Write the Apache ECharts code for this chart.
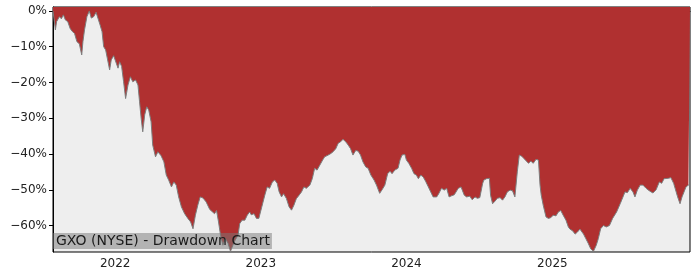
<!DOCTYPE html>
<html>
<head>
<meta charset="utf-8">
<script src="https://cdn.jsdelivr.net/npm/echarts@6/dist/echarts.min.js"></script>
<style>html,body{margin:0;padding:0;background:#fff}#c{width:700px;height:280px}</style>
</head>
<body>
<div id="c"></div>
<script>
const titleText = 'GXO (NYSE) - Drawdown Chart';
const yTicks = [0, -10, -20, -30, -40, -50, -60];
const xTickYears = [2022, 2023, 2024, 2025];
const dates = [
'2021-07-29','2021-08-04','2021-08-07','2021-08-14','2021-08-19','2021-08-24','2021-08-29','2021-09-04','2021-09-10','2021-09-15',
'2021-09-21','2021-09-27','2021-10-03','2021-10-09','2021-10-12','2021-10-16','2021-10-22','2021-10-28','2021-11-02','2021-11-08',
'2021-11-14','2021-11-18','2021-11-24','2021-11-29','2021-12-03','2021-12-08','2021-12-13','2021-12-18','2021-12-22','2021-12-28',
'2022-01-02','2022-01-08','2022-01-12','2022-01-17','2022-01-22','2022-01-27','2022-02-02','2022-02-08','2022-02-14','2022-02-21',
'2022-02-27','2022-03-03','2022-03-07','2022-03-11','2022-03-16','2022-03-21','2022-03-26','2022-04-01','2022-04-05','2022-04-12',
'2022-04-18','2022-04-26','2022-05-03','2022-05-09','2022-05-15','2022-05-22','2022-05-28','2022-06-03','2022-06-09','2022-06-16',
'2022-06-24','2022-07-02','2022-07-09','2022-07-15','2022-07-21','2022-07-27','2022-08-02','2022-08-09','2022-08-17','2022-08-26',
'2022-08-31','2022-09-07','2022-09-12','2022-09-17','2022-09-22','2022-09-28','2022-10-04','2022-10-11','2022-10-17','2022-10-23',
'2022-10-29','2022-11-05','2022-11-09','2022-11-15','2022-11-22','2022-11-28','2022-12-04','2022-12-08','2022-12-15','2022-12-21',
'2022-12-27','2023-01-11','2023-01-17','2023-01-23','2023-01-30','2023-02-05','2023-02-11','2023-02-16','2023-02-22','2023-02-27',
'2023-03-06','2023-03-13','2023-03-19','2023-03-25','2023-03-31','2023-04-07','2023-04-13','2023-04-19','2023-04-25','2023-05-04',
'2023-05-10','2023-05-16','2023-05-22','2023-05-29','2023-06-05','2023-06-10','2023-06-19','2023-06-25','2023-07-01','2023-07-08',
'2023-07-14','2023-07-20','2023-07-26','2023-08-02','2023-08-08','2023-08-14','2023-08-20','2023-08-27','2023-09-02','2023-09-08',
'2023-09-14','2023-09-21','2023-09-27','2023-10-04','2023-10-12','2023-10-18','2023-10-26','2023-11-01','2023-11-08','2023-11-15',
'2023-11-21','2023-11-26','2023-12-03','2023-12-11','2023-12-16','2023-12-21','2023-12-28','2024-01-01','2024-01-07','2024-01-14',
'2024-01-20','2024-01-26','2024-01-31','2024-02-06','2024-02-12','2024-02-18','2024-02-25','2024-03-02','2024-03-08','2024-03-17',
'2024-03-22','2024-03-29','2024-04-05','2024-04-11','2024-04-17','2024-04-23','2024-04-30','2024-05-10','2024-05-17','2024-05-20',
'2024-05-25','2024-05-31','2024-06-08','2024-06-14','2024-06-21','2024-06-27','2024-07-03','2024-07-10','2024-07-13','2024-07-20',
'2024-07-27','2024-07-30','2024-08-04','2024-08-10','2024-08-16','2024-08-23','2024-08-29','2024-09-04','2024-09-10','2024-09-17',
'2024-09-23','2024-09-29','2024-10-05','2024-10-10','2024-10-16','2024-10-22','2024-10-27','2024-11-02','2024-11-08','2024-11-14',
'2024-11-21','2024-11-27','2024-12-01','2024-12-04','2024-12-09','2024-12-16','2024-12-22','2024-12-28','2025-01-03','2025-01-10',
'2025-01-16','2025-01-22','2025-01-28','2025-02-04','2025-02-10','2025-02-14','2025-02-21','2025-02-27','2025-03-05','2025-03-11',
'2025-03-20','2025-03-26','2025-04-01','2025-04-07','2025-04-14','2025-04-21','2025-04-26','2025-05-02','2025-05-09','2025-05-16',
'2025-05-24','2025-06-01','2025-06-11','2025-06-20','2025-06-27','2025-07-02','2025-07-08','2025-07-15','2025-07-22','2025-07-27',
'2025-08-02','2025-08-09','2025-08-16','2025-08-24','2025-09-01','2025-09-10','2025-09-18','2025-09-26','2025-10-02','2025-10-08',
'2025-10-13','2025-10-19','2025-10-25','2025-11-01','2025-11-05','2025-11-11','2025-11-17','2025-11-22','2025-11-27','2025-12-02',
'2025-12-08','2025-12-12'
];
const drawdown = [
0,-5.3,-3.0,-1.6,-2.2,-1.1,-2.5,-3.0,-4.9,-5.7,
-6.3,-8.6,-9.2,-12.3,-8.6,-5.3,-1.6,0,-2.0,-1.6,
-0.4,-0.6,-3.9,-5.8,-10.0,-10.9,-13.7,-16.5,-13.7,-12.5,
-13.0,-16.0,-14.2,-15.5,-19.8,-24.5,-20.7,-18.4,-19.8,-19.3,
-20.7,-25.4,-30.0,-33.8,-29.0,-26.8,-27.7,-31.0,-37.5,-40.8,
-39.4,-40.5,-42.2,-45.9,-47.3,-49.2,-47.8,-48.7,-52.0,-54.8,
-56.7,-58.0,-59.0,-60.9,-57.1,-54.3,-52.0,-52.3,-53.4,-55.5,
-56.0,-56.7,-55.8,-59.0,-62.7,-65.5,-63.6,-65.0,-67.2,-65.5,
-64.0,-62.7,-59.5,-58.5,-58.5,-57.1,-56.2,-57.0,-56.7,-58.0,
-58.0,-51.5,-49.2,-49.6,-47.8,-47.3,-48.2,-50.6,-52.0,-51.1,
-52.4,-54.8,-55.7,-54.3,-52.5,-51.5,-50.6,-49.2,-49.6,-48.7,
-46.9,-44.0,-44.5,-43.1,-41.7,-40.8,-40.3,-39.9,-39.4,-38.5,
-37.0,-36.6,-35.9,-36.6,-37.5,-38.5,-40.3,-39.0,-39.2,-40.3,
-42.2,-43.6,-44.0,-45.9,-47.3,-48.7,-51.0,-50.0,-48.7,-45.5,
-44.8,-45.5,-44.5,-44.0,-41.7,-40.3,-40.1,-41.7,-42.6,-44.0,
-45.5,-45.9,-46.9,-45.9,-46.4,-47.6,-49.2,-50.6,-52.0,-52.0,
-51.1,-49.6,-50.1,-49.6,-52.0,-51.7,-51.4,-49.6,-49.2,-48.7,
-51.5,-52.0,-51.8,-52.8,-52.0,-52.4,-52.2,-48.3,-47.3,-46.9,
-46.8,-51.5,-53.9,-53.2,-52.4,-52.2,-52.9,-52.0,-50.6,-50.1,
-50.3,-52.0,-45.0,-40.3,-40.6,-41.3,-41.7,-42.6,-42.0,-42.6,
-41.5,-41.7,-48.7,-51.5,-54.3,-57.6,-58.0,-57.8,-57.1,-57.3,
-56.2,-55.8,-57.1,-58.5,-60.4,-61.0,-61.5,-62.4,-61.8,-61.0,
-62.4,-63.7,-65.0,-66.5,-67.2,-65.5,-63.7,-60.9,-60.0,-60.4,
-60.0,-58.0,-56.2,-53.9,-52.0,-50.6,-50.8,-49.6,-50.6,-52.0,
-50.1,-48.7,-48.7,-49.6,-50.3,-50.9,-50.0,-47.8,-48.2,-46.9,
-46.9,-46.8,-46.6,-48.2,-48.7,-52.0,-53.9,-52.0,-50.6,-49.2,
-48.7,-48.7
];

const chart = echarts.init(document.getElementById('c'), null, {renderer: 'canvas'});
const toMs = d => Date.parse(d + 'T00:00:00Z');
const seriesData = dates.map((d, i) => [toMs(d), drawdown[i]]);
const xTickValues = xTickYears.map(y => Date.UTC(y, 0, 1));
const font = 'DejaVu Sans';

chart.setOption({
  animation: false,
  grid: {left: 53, right: 10, top: 7, bottom: 28, show: true, backgroundColor: '#eeeeee', borderColor: '#000', borderWidth: 1},
  xAxis: {
    type: 'value',
    min: toMs(dates[0]), max: toMs(dates[dates.length - 1]),
    splitLine: {show: false},
    axisLine: {show: true, lineStyle: {color: '#000', width: 1}},
    axisTick: {show: true, length: 4, lineStyle: {color: '#000'}, customValues: xTickValues},
    axisLabel: {customValues: xTickValues, formatter: v => String(new Date(v).getUTCFullYear()), color: '#222', fontFamily: font, fontSize: 12, margin: 6}
  },
  yAxis: {
    type: 'value',
    min: -67.4, max: 1.1,
    splitLine: {show: false},
    axisLine: {show: true, lineStyle: {color: '#000', width: 1}},
    axisTick: {show: true, length: 4, lineStyle: {color: '#000'}, customValues: yTicks},
    axisLabel: {customValues: yTicks, formatter: v => (v < 0 ? '\u2212' + Math.abs(v) : String(v)) + '%', color: '#222', fontFamily: font, fontSize: 12, margin: 6}
  },
  series: [{
    type: 'line',
    data: seriesData,
    showSymbol: false,
    lineStyle: {color: '#7d7d7d', width: 1},
    areaStyle: {color: '#b03030', opacity: 1, origin: 'end'},
    z: 2
  }],
  graphic: [{
    type: 'text',
    left: 53, top: 233,
    z: 100,
    style: {
      text: titleText,
      font: '14px "DejaVu Sans"',
      fill: '#1a1a1a',
      backgroundColor: 'rgba(120,120,120,0.5)',
      padding: [1, 2, 1, 3]
    }
  }]
});
</script>
</body>
</html>
